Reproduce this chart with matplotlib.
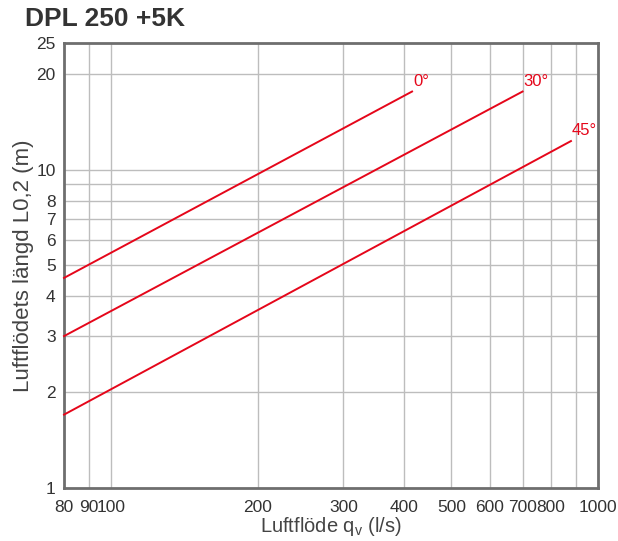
import matplotlib.pyplot as plt
import numpy as np

plt.rcParams['font.family'] = ['Liberation Sans', 'DejaVu Sans']

# line end points (flow l/s, throw m)
flow_0 = [80, 415]
throw_0 = [4.57, 17.6]
flow_30 = [80, 700]
throw_30 = [3.0, 17.6]
flow_45 = [80, 880]
throw_45 = [1.7, 12.3]
angle_labels = ['0°', '30°', '45°']

x_ticks = [80, 90, 100, 200, 300, 400, 500, 600, 700, 800, 1000]
x_grid = [90, 100, 200, 300, 400, 500, 600, 700, 800, 900]
y_ticks = [1, 2, 3, 4, 5, 6, 7, 8, 10, 20, 25]
y_grid = [2, 3, 4, 5, 6, 7, 8, 9, 10, 20]

fig = plt.figure(figsize=(6.18, 5.41), dpi=100)
ax = fig.add_axes([0.1036, 0.098, 0.864, 0.8225])
ax.set_xscale('log')
ax.set_yscale('log')
ax.set_xlim(80, 1000)
ax.set_ylim(1, 25)

for g in x_grid:
    ax.axvline(g, color='#bdbdbd', lw=1.0, zorder=1)
for g in y_grid:
    ax.axhline(g, color='#bdbdbd', lw=1.0, zorder=1)

red = '#e5061a'
series = [(flow_0, throw_0), (flow_30, throw_30), (flow_45, throw_45)]
for (fx, ty), lab in zip(series, angle_labels):
    ax.plot(fx, ty, color=red, lw=1.4, zorder=3, clip_on=False)
    ax.text(fx[-1] * 1.005, ty[-1] * 1.02, lab, color=red, fontsize=12,
            ha='left', va='bottom')

ax.set_xticks(x_ticks)
ax.set_xticklabels([str(v) for v in x_ticks])
ax.set_yticks(y_ticks)
ax.set_yticklabels([str(v) for v in y_ticks])
ax.minorticks_off()
ax.tick_params(length=0, labelsize=12.5, colors='#333333')
ax.tick_params(axis='x', pad=9)
ax.tick_params(axis='y', pad=6)

for s in ax.spines.values():
    s.set_color('#6e6e6e')
    s.set_linewidth(2)

ax.set_xlabel('Luftflöde q$_\\mathregular{v}$ (l/s)', fontsize=14.5, color='#444444', labelpad=0)
ax.set_ylabel('Luftflödets längd L0,2 (m)', fontsize=16, color='#444444', labelpad=2)
fig.text(0.04, 0.965, 'DPL 250 +5K', fontsize=19, fontweight='bold', color='#333333',
         ha='left', va='center')

fig.savefig('out.png', dpi=100)
